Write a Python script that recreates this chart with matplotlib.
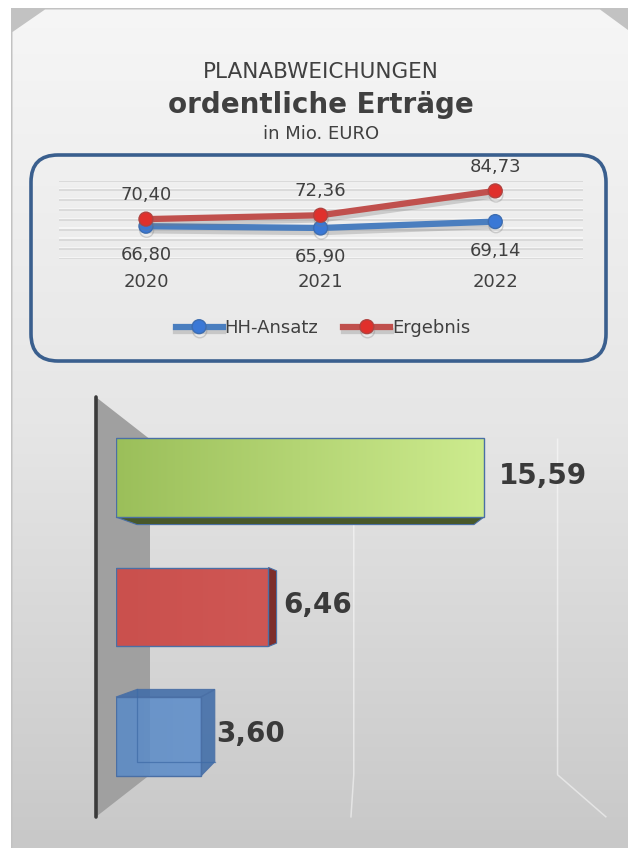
import numpy as np
import matplotlib
matplotlib.use('Agg')
import matplotlib.pyplot as plt
from matplotlib.patches import Polygon, FancyBboxPatch, Rectangle
from matplotlib.colors import LinearSegmentedColormap
import matplotlib.patheffects as pe

# ---------------- data ----------------
years = ['2020', '2021', '2022']
hh_ansatz = [66.80, 65.90, 69.14]
ergebnis = [70.40, 72.36, 84.73]
abweichung = [3.60, 6.46, 15.59]
series_names = ['HH-Ansatz', 'Ergebnis']
title1 = 'PLANABWEICHUNGEN'
title2 = 'ordentliche Erträge'
title3 = 'in Mio. EURO'


def fmt(v):
    return f'{v:.2f}'.replace('.', ',')


TXT = '#404040'
W, H = 628, 848
fig = plt.figure(figsize=(6.28, 8.48), dpi=100)
fig.patch.set_facecolor('white')

# ---------------- background panel ----------------
bg = fig.add_axes([0, 0, 1, 1], zorder=-10)
bg.axis('off')
bg.add_patch(Rectangle((11, 8), W - 11, H - 8, facecolor='#c2c2c2', edgecolor='none', zorder=0))
panel = Polygon([(12.5, 32), (45, 9.5), (600, 9.5), (W, 30), (W, H), (12.5, H)],
                closed=True, facecolor='none', edgecolor='none')
bg.add_patch(panel)
grad = np.linspace(0, 1, 256)[:, None] * np.ones((1, 2))
cmap_bg = LinearSegmentedColormap.from_list('bg', ['#f6f6f6', '#e6e6e6', '#c8c8c8'])
im = bg.imshow(grad, extent=(0, W, H, 0), cmap=cmap_bg, aspect='auto',
               interpolation='bicubic', zorder=1)
im.set_clip_path(panel)
bg.set_xlim(0, W)
bg.set_ylim(H, 0)

bg.text(321, 72, title1, ha='center', va='center', fontsize=15.5, color=TXT, zorder=3)
bg.text(321, 105, title2, ha='center', va='center', fontsize=20, fontweight='bold', color=TXT, zorder=3)
bg.text(321, 134, title3, ha='center', va='center', fontsize=13, color=TXT, zorder=3)

box = FancyBboxPatch((31, 155), 575, 206, boxstyle='round,pad=0,rounding_size=27',
                     facecolor='none', edgecolor='#3a5f8e', linewidth=2.6, zorder=3)
bg.add_patch(box)

# ---------------- line chart ----------------
axl = fig.add_axes([58.6 / W, (H - 259.3) / H, 524 / W, 78.8 / H])
axl.set_facecolor('none')
x = np.arange(len(years))
axl.set_xlim(-0.5, 2.5)
axl.set_ylim(50, 90)
axl.set_yticks(np.arange(50, 91, 5))
axl.yaxis.grid(True, color='#d6d6d6', lw=1.2,
               path_effects=[pe.SimpleLineShadow(offset=(0, 1), shadow_color='white', alpha=0.6),
                             pe.Normal()])
axl.tick_params(axis='y', left=False, labelleft=False)
axl.set_xticks(x, years)
axl.tick_params(axis='x', length=0, pad=10, labelsize=13, labelcolor=TXT)
for s in axl.spines.values():
    s.set_visible(False)

shadow = [pe.SimpleLineShadow(offset=(0.5, -3), shadow_color='#7a7a7a', alpha=0.3), pe.Normal()]
l1, = axl.plot(x, hh_ansatz, color='#4a7ebf', lw=4.5, marker='o', ms=10,
               mfc='#3a78d6', mec='#3d6db0', mew=1, label=series_names[0],
               path_effects=shadow, clip_on=False, zorder=3)
l2, = axl.plot(x, ergebnis, color='#c0504d', lw=4.5, marker='o', ms=10,
               mfc='#e0302c', mec='#b04340', mew=1, label=series_names[1],
               path_effects=shadow, clip_on=False, zorder=4)

for xi, v in zip(x, ergebnis):
    axl.annotate(fmt(v), (xi, v), xytext=(0, 24), textcoords='offset pixels',
                 ha='center', va='center', fontsize=13, color=TXT)
for xi, v in zip(x, hh_ansatz):
    axl.annotate(fmt(v), (xi, v), xytext=(0, -29), textcoords='offset pixels',
                 ha='center', va='center', fontsize=13, color=TXT)

fig.legend(handles=[l1, l2], loc='center', bbox_to_anchor=(323 / W, 1 - 328 / H),
           ncol=2, frameon=False, fontsize=13, handlelength=2.6, handletextpad=0.1,
           columnspacing=1.4, labelcolor=TXT)

# ---------------- 3D-style bar chart ----------------
axb = fig.add_axes([116 / W, (H - 801.25) / H, 472 / W, 388.5 / H])
axb.axis('off')
axb.set_xlim(0, 20)
axb.set_ylim(-0.5, 2.5)

VP = (10.55, 1.0)
k_front, k_back, k_bar = -0.08, 0.1365, 0.0843


def proj(px, py, k):
    return (px + k * (VP[0] - px), py + k * (VP[1] - py))


y0, y1 = axb.get_ylim()

# side wall
wall = Polygon([proj(0, y1, k_front), proj(0, y1, k_back), proj(0, y0, k_back), proj(0, y0, k_front)],
               closed=True, facecolor='#a0a0a0', edgecolor='none', clip_on=False, zorder=1)
axb.add_patch(wall)
fx = [proj(0, y1, k_front)[0], proj(0, y0, k_front)[0]]
fy = [proj(0, y1, k_front)[1], proj(0, y0, k_front)[1]]
axb.plot(fx, fy, color='#3a3a3a', lw=2.6, clip_on=False, zorder=2, solid_capstyle='round')

# back-wall gridlines continuing on the floor
for gx in [10, 20]:
    pts = [proj(gx, y1, k_back), proj(gx, y0, k_back), proj(gx, y0, k_front)]
    axb.plot([p[0] for p in pts], [p[1] for p in pts], color='white', lw=1.1,
             alpha=0.5, clip_on=False, zorder=1.5)

# bars
h = 0.61
grad_cols = [('#5b8bc6', '#5e8ecb'), ('#ca504d', '#cf5754'), ('#9bbf5a', '#cdeb8e')]
side_cols = ['#3f6ca8', '#7d2e2c', '#48582a']
alphas = [0.88, 1.0, 1.0]
bars = axb.barh(x, abweichung, height=h, color='none', edgecolor='#4a6fa5', lw=1, zorder=3)
hg = np.linspace(0, 1, 256)[None, :]
for i, (b, v) in enumerate(zip(bars, abweichung)):
    cm = LinearSegmentedColormap.from_list(f'b{i}', list(grad_cols[i]))
    img = axb.imshow(hg, extent=(0, v, x[i] - h / 2, x[i] + h / 2), cmap=cm,
                     aspect='auto', alpha=alphas[i], zorder=2.8, interpolation='bicubic')
    img.set_clip_path(b)
    lo, hi = x[i] - h / 2, x[i] + h / 2
    faces = []
    if hi < VP[1]:
        faces.append([(0, hi), (v, hi), proj(v, hi, k_bar), proj(0, hi, k_bar)])
    if lo > VP[1]:
        faces.append([(0, lo), (v, lo), proj(v, lo, k_bar), proj(0, lo, k_bar)])
    if v < VP[0]:
        faces.append([(v, lo), (v, hi), proj(v, hi, k_bar), proj(v, lo, k_bar)])
    for f in faces:
        axb.add_patch(Polygon(f, closed=True, facecolor=side_cols[i], alpha=alphas[i],
                              edgecolor='#4a6fa5', lw=0.8, zorder=2.6, clip_on=False))
    if alphas[i] < 1:
        pts = [proj(0, hi, k_bar), proj(0, lo, k_bar), proj(v, lo, k_bar)]
        axb.plot([p[0] for p in pts], [p[1] for p in pts], color='#3d6aa6', lw=0.9,
                 alpha=0.7, zorder=3.2, clip_on=False)
    axb.annotate(fmt(v), (v, x[i]), xytext=(15, 2), textcoords='offset pixels',
                 ha='left', va='center', fontsize=20, fontweight='bold', color='#3a3a3a')
    axb.annotate(years[i], proj(0, x[i], k_front), xytext=(-18, 0), textcoords='offset pixels',
                 ha='right', va='center', fontsize=13, color=TXT)

axb.set_xlim(0, 20)
axb.set_ylim(-0.5, 2.5)

fig.savefig('out.png', dpi=100, facecolor='white')
